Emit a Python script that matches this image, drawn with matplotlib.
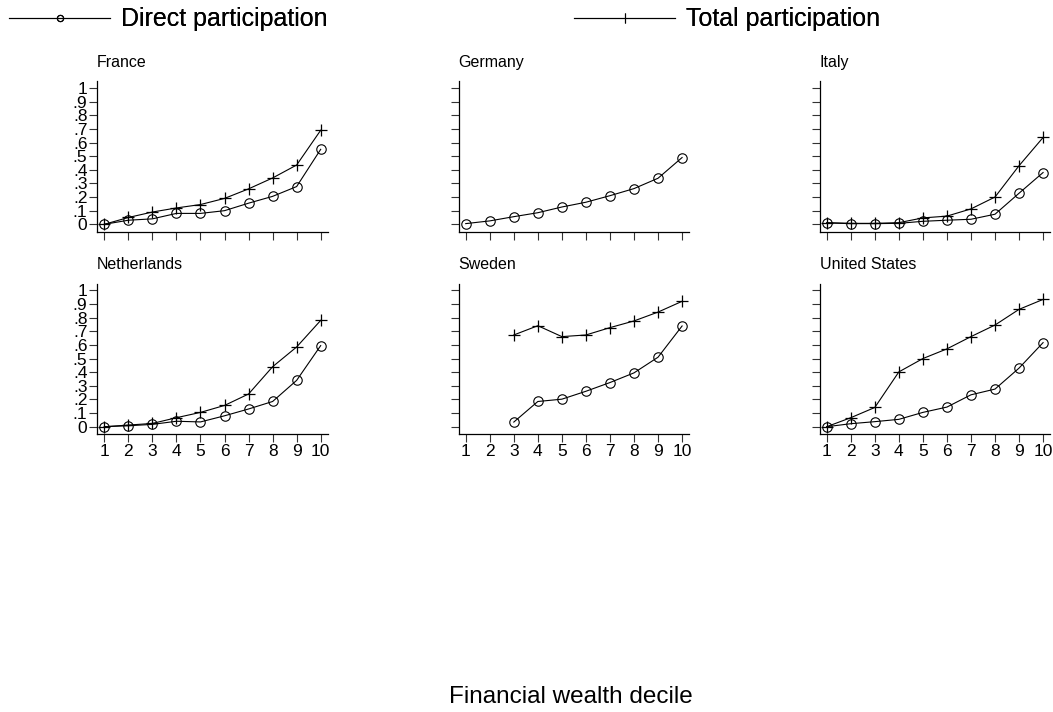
import numpy as np
import matplotlib
matplotlib.use("Agg")
import matplotlib.pyplot as plt
from matplotlib.lines import Line2D

plt.rcParams['font.family'] = ['Liberation Sans', 'DejaVu Sans']

deciles = [1, 2, 3, 4, 5, 6, 7, 8, 9, 10]
countries = ["France", "Germany", "Italy", "Netherlands", "Sweden", "United States"]
nan = np.nan

france_direct = [0.0, 0.03, 0.04, 0.08, 0.08, 0.10, 0.155, 0.205, 0.277, 0.55]
france_total = [0.0, 0.05, 0.09, 0.12, 0.145, 0.19, 0.26, 0.34, 0.435, 0.69]
germany_direct = [0.005, 0.025, 0.056, 0.085, 0.127, 0.162, 0.21, 0.262, 0.338, 0.49]
germany_total = [nan] * 10
italy_direct = [0.01, 0.005, 0.005, 0.007, 0.022, 0.03, 0.037, 0.074, 0.228, 0.38]
italy_total = [0.012, 0.007, 0.007, 0.012, 0.047, 0.06, 0.113, 0.20, 0.43, 0.637]
netherlands_direct = [0.0, 0.007, 0.017, 0.04, 0.035, 0.08, 0.13, 0.185, 0.34, 0.595]
netherlands_total = [0.0, 0.012, 0.024, 0.066, 0.105, 0.156, 0.24, 0.44, 0.585, 0.78]
sweden_direct = [nan, nan, 0.034, 0.185, 0.202, 0.26, 0.324, 0.395, 0.51, 0.739]
sweden_total = [nan, nan, 0.673, 0.741, 0.661, 0.673, 0.727, 0.776, 0.841, 0.92]
us_direct = [0.0, 0.022, 0.037, 0.054, 0.105, 0.144, 0.234, 0.276, 0.43, 0.617]
us_total = [0.0, 0.066, 0.141, 0.402, 0.50, 0.571, 0.661, 0.746, 0.861, 0.934]

direct_series = [france_direct, germany_direct, italy_direct,
                 netherlands_direct, sweden_direct, us_direct]
total_series = [france_total, germany_total, italy_total,
                netherlands_total, sweden_total, us_total]

y_ticks = [0, 0.1, 0.2, 0.3, 0.4, 0.5, 0.6, 0.7, 0.8, 0.9, 1.0]
y_ticklabels = ["0", ".1", ".2", ".3", ".4", ".5", ".6", ".7", ".8", ".9", "1"]

legend_labels = ["Direct participation", "Total participation"]
x_label = "Financial wealth decile"

W, H = 1053, 712
fig = plt.figure(figsize=(W / 100, H / 100), dpi=100)

lefts = [97.1, 458.5, 819.5]
bottoms_px = [231.8, 434.2]
ax_w, ax_h = 230.8, 150.6

tick_fs = 12.5
for i, name in enumerate(countries):
    r, c = divmod(i, 3)
    ax = fig.add_axes([lefts[c] / W, 1 - bottoms_px[r] / H, ax_w / W, ax_h / H])
    ax.plot(deciles, direct_series[i], color='black', lw=0.8, marker='o',
            ms=6.8, mfc='none', mec='black', mew=0.8)
    ax.plot(deciles, total_series[i], color='black', lw=0.8, marker='+',
            ms=8, mec='black', mew=0.9)
    ax.set_xlim(0.7, 10.3)
    ax.set_ylim(-0.055, 1.05)
    for s in ['top', 'right']:
        ax.spines[s].set_visible(False)
    for s in ['left', 'bottom']:
        ax.spines[s].set_linewidth(0.9)
    ax.set_xticks(deciles)
    ax.set_yticks(y_ticks)
    ax.tick_params(length=6, width=0.8, color='#333333', pad=1, labelsize=tick_fs)
    if c == 0:
        ax.set_yticklabels(y_ticklabels)
    else:
        ax.set_yticklabels([])
    if r == 1:
        ax.set_xticklabels([str(d) for d in deciles])
    else:
        ax.set_xticklabels([])
    ax.set_title(name, loc='left', fontsize=11.5, pad=10.5)

leg_fs = 18
h1 = Line2D([], [], color='black', lw=0.8, marker='o', ms=4.5, mfc='none', mew=0.8)
h2 = Line2D([], [], color='black', lw=0.8, marker='|', ms=7, mew=0.8)
for h, lab, x0 in [(h1, legend_labels[0], 9), (h2, legend_labels[1], 574)]:
    lg = fig.legend([h], [lab], loc='center left',
                    bbox_to_anchor=(x0 / W, 1 - 19.3 / H), frameon=False,
                    fontsize=leg_fs, handlelength=4.05, handletextpad=0.45,
                    borderpad=0, borderaxespad=0, markerscale=1)
    fig.add_artist(lg)

fig.text(571 / W, 1 - 703 / H, x_label, ha='center', va='baseline', fontsize=17.5)

fig.savefig("out.png", dpi=100, facecolor='white')
